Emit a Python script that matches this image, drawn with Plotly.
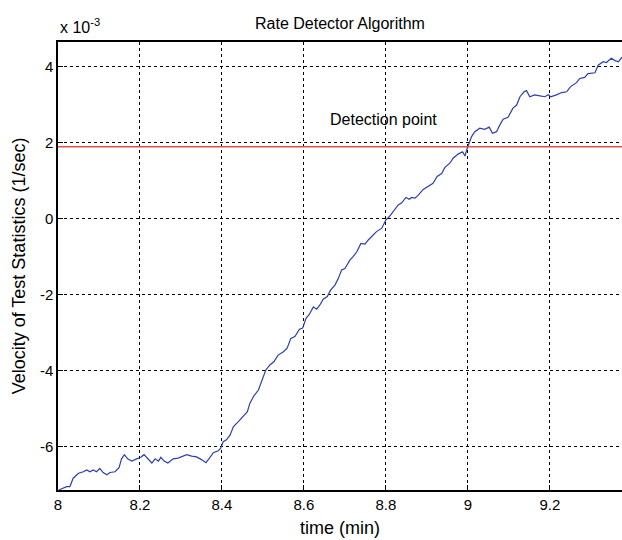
import plotly.graph_objects as go

# time (min)
t = [8.002, 8.013, 8.021, 8.029, 8.037, 8.050, 8.062, 8.070, 8.078, 8.086, 8.094, 8.102,
     8.110, 8.119, 8.127, 8.139, 8.149, 8.155, 8.162, 8.170, 8.180, 8.192, 8.202, 8.210,
     8.219, 8.229, 8.237, 8.245, 8.251, 8.259, 8.268, 8.276, 8.281, 8.293, 8.306, 8.314,
     8.326, 8.338, 8.350, 8.361, 8.369, 8.379, 8.391, 8.397, 8.403, 8.411, 8.420, 8.428,
     8.440, 8.452, 8.462, 8.468, 8.478, 8.489, 8.497, 8.507, 8.517, 8.527, 8.537, 8.550,
     8.559, 8.568, 8.578, 8.589, 8.597, 8.605, 8.613, 8.623, 8.631, 8.639, 8.647, 8.657,
     8.665, 8.676, 8.684, 8.692, 8.700, 8.712, 8.720, 8.729, 8.739, 8.749, 8.757, 8.765,
     8.777, 8.790, 8.800, 8.808, 8.818, 8.830, 8.838, 8.849, 8.857, 8.863, 8.871, 8.879,
     8.891, 8.903, 8.915, 8.925, 8.936, 8.944, 8.956, 8.964, 8.976, 8.987, 8.993, 8.997,
     9.003, 9.009, 9.017, 9.029, 9.041, 9.052, 9.060, 9.070, 9.078, 9.086, 9.098, 9.110,
     9.119, 9.127, 9.137, 9.143, 9.151, 9.163, 9.176, 9.188, 9.196, 9.202, 9.216, 9.229,
     9.241, 9.250, 9.265, 9.273, 9.285, 9.293, 9.310, 9.318, 9.330, 9.338, 9.350, 9.359,
     9.367, 9.376]

# velocity of test statistics (x 1e-3 1/sec)
velocity = [-7.14, -7.08, -7.05, -7.05, -6.83, -6.70, -6.66, -6.61, -6.66, -6.61, -6.66, -6.57,
            -6.68, -6.74, -6.68, -6.66, -6.55, -6.32, -6.21, -6.32, -6.38, -6.32, -6.28, -6.21,
            -6.32, -6.43, -6.32, -6.38, -6.28, -6.38, -6.43, -6.36, -6.32, -6.30, -6.25, -6.21,
            -6.25, -6.27, -6.34, -6.42, -6.31, -6.16, -6.11, -6.04, -5.87, -5.82, -5.69, -5.47,
            -5.34, -5.21, -5.08, -4.86, -4.66, -4.51, -4.29, -3.98, -3.85, -3.76, -3.59, -3.50,
            -3.41, -3.15, -3.10, -2.91, -2.88, -2.62, -2.52, -2.32, -2.38, -2.27, -2.12, -2.05,
            -1.88, -1.74, -1.57, -1.35, -1.31, -1.09, -1.00, -0.87, -0.65, -0.67, -0.56, -0.47,
            -0.34, -0.25, -0.03, 0.05, 0.18, 0.36, 0.41, 0.56, 0.51, 0.56, 0.54, 0.62,
            0.77, 0.84, 0.93, 1.11, 1.19, 1.35, 1.46, 1.59, 1.70, 1.76, 1.65, 1.81,
            1.98, 2.16, 2.29, 2.38, 2.35, 2.41, 2.25, 2.29, 2.47, 2.62, 2.67, 2.91,
            2.99, 3.21, 3.34, 3.37, 3.21, 3.26, 3.23, 3.21, 3.26, 3.21, 3.26, 3.32,
            3.34, 3.47, 3.58, 3.69, 3.72, 3.82, 3.84, 4.04, 4.13, 4.11, 4.22, 4.16,
            4.13, 4.25]

detection_level = 1.895
x_ticks = [8, 8.2, 8.4, 8.6, 8.8, 9, 9.2]
y_ticks = [-6, -4, -2, 0, 2, 4]
title_text = "Rate Detector Algorithm"
x_label = "time (min)"
y_label = "Velocity of Test Statistics (1/sec)"
annotation_text = "Detection point"

FONT = "Liberation Sans, Arial, Helvetica, sans-serif"
x_range = [8, 9.376]
y_range = [-7.14, 4.65]

fig = go.Figure()
fig.add_trace(go.Scatter(x=t, y=velocity, mode="lines",
                         line=dict(color="#2b3fae", width=1.2),
                         showlegend=False, hoverinfo="skip"))
fig.add_trace(go.Scatter(x=x_range, y=[detection_level, detection_level], mode="lines",
                         line=dict(color="#e0504a", width=1.6),
                         showlegend=False, hoverinfo="skip"))

fig.add_annotation(x=8.795, y=2.62, text=annotation_text, showarrow=False,
                   font=dict(family=FONT, size=16, color="black"),
                   xanchor="center", yanchor="middle")
fig.add_annotation(xref="paper", yref="paper", x=0.5, y=1.0, yshift=19,
                   text=title_text, showarrow=False,
                   font=dict(family=FONT, size=16, color="black"),
                   xanchor="center", yanchor="middle")
fig.add_annotation(xref="paper", yref="paper", x=0.0, y=1.0, yshift=16,
                   text="x 10<sup>-3</sup>", showarrow=False,
                   font=dict(family=FONT, size=16, color="black"),
                   xanchor="left", yanchor="middle")

fig.update_layout(
    width=622, height=540,
    margin=dict(l=58, r=0, t=42, b=50),
    paper_bgcolor="white", plot_bgcolor="white",
    font=dict(family=FONT, size=15, color="black"),
)
fig.update_xaxes(range=x_range, tickvals=x_ticks, ticktext=[str(v) for v in x_ticks],
                 showgrid=True, gridcolor="black", gridwidth=1, griddash="3px,3px",
                 showline=True, linecolor="black", linewidth=1.5, mirror=True,
                 ticks="inside", ticklen=5, tickcolor="black", zeroline=False,
                 tickfont=dict(family=FONT, size=15),
                 title=dict(text=x_label, font=dict(family=FONT, size=18), standoff=10))
fig.update_yaxes(range=y_range, tickvals=y_ticks, ticktext=[str(v) for v in y_ticks],
                 showgrid=True, gridcolor="black", gridwidth=1, griddash="3px,3px",
                 showline=True, linecolor="black", linewidth=1.5, mirror=False,
                 ticks="inside", ticklen=5, tickcolor="black", zeroline=False,
                 tickfont=dict(family=FONT, size=15),
                 title=dict(text=y_label, font=dict(family=FONT, size=18), standoff=10))

fig.write_html("out.html")
